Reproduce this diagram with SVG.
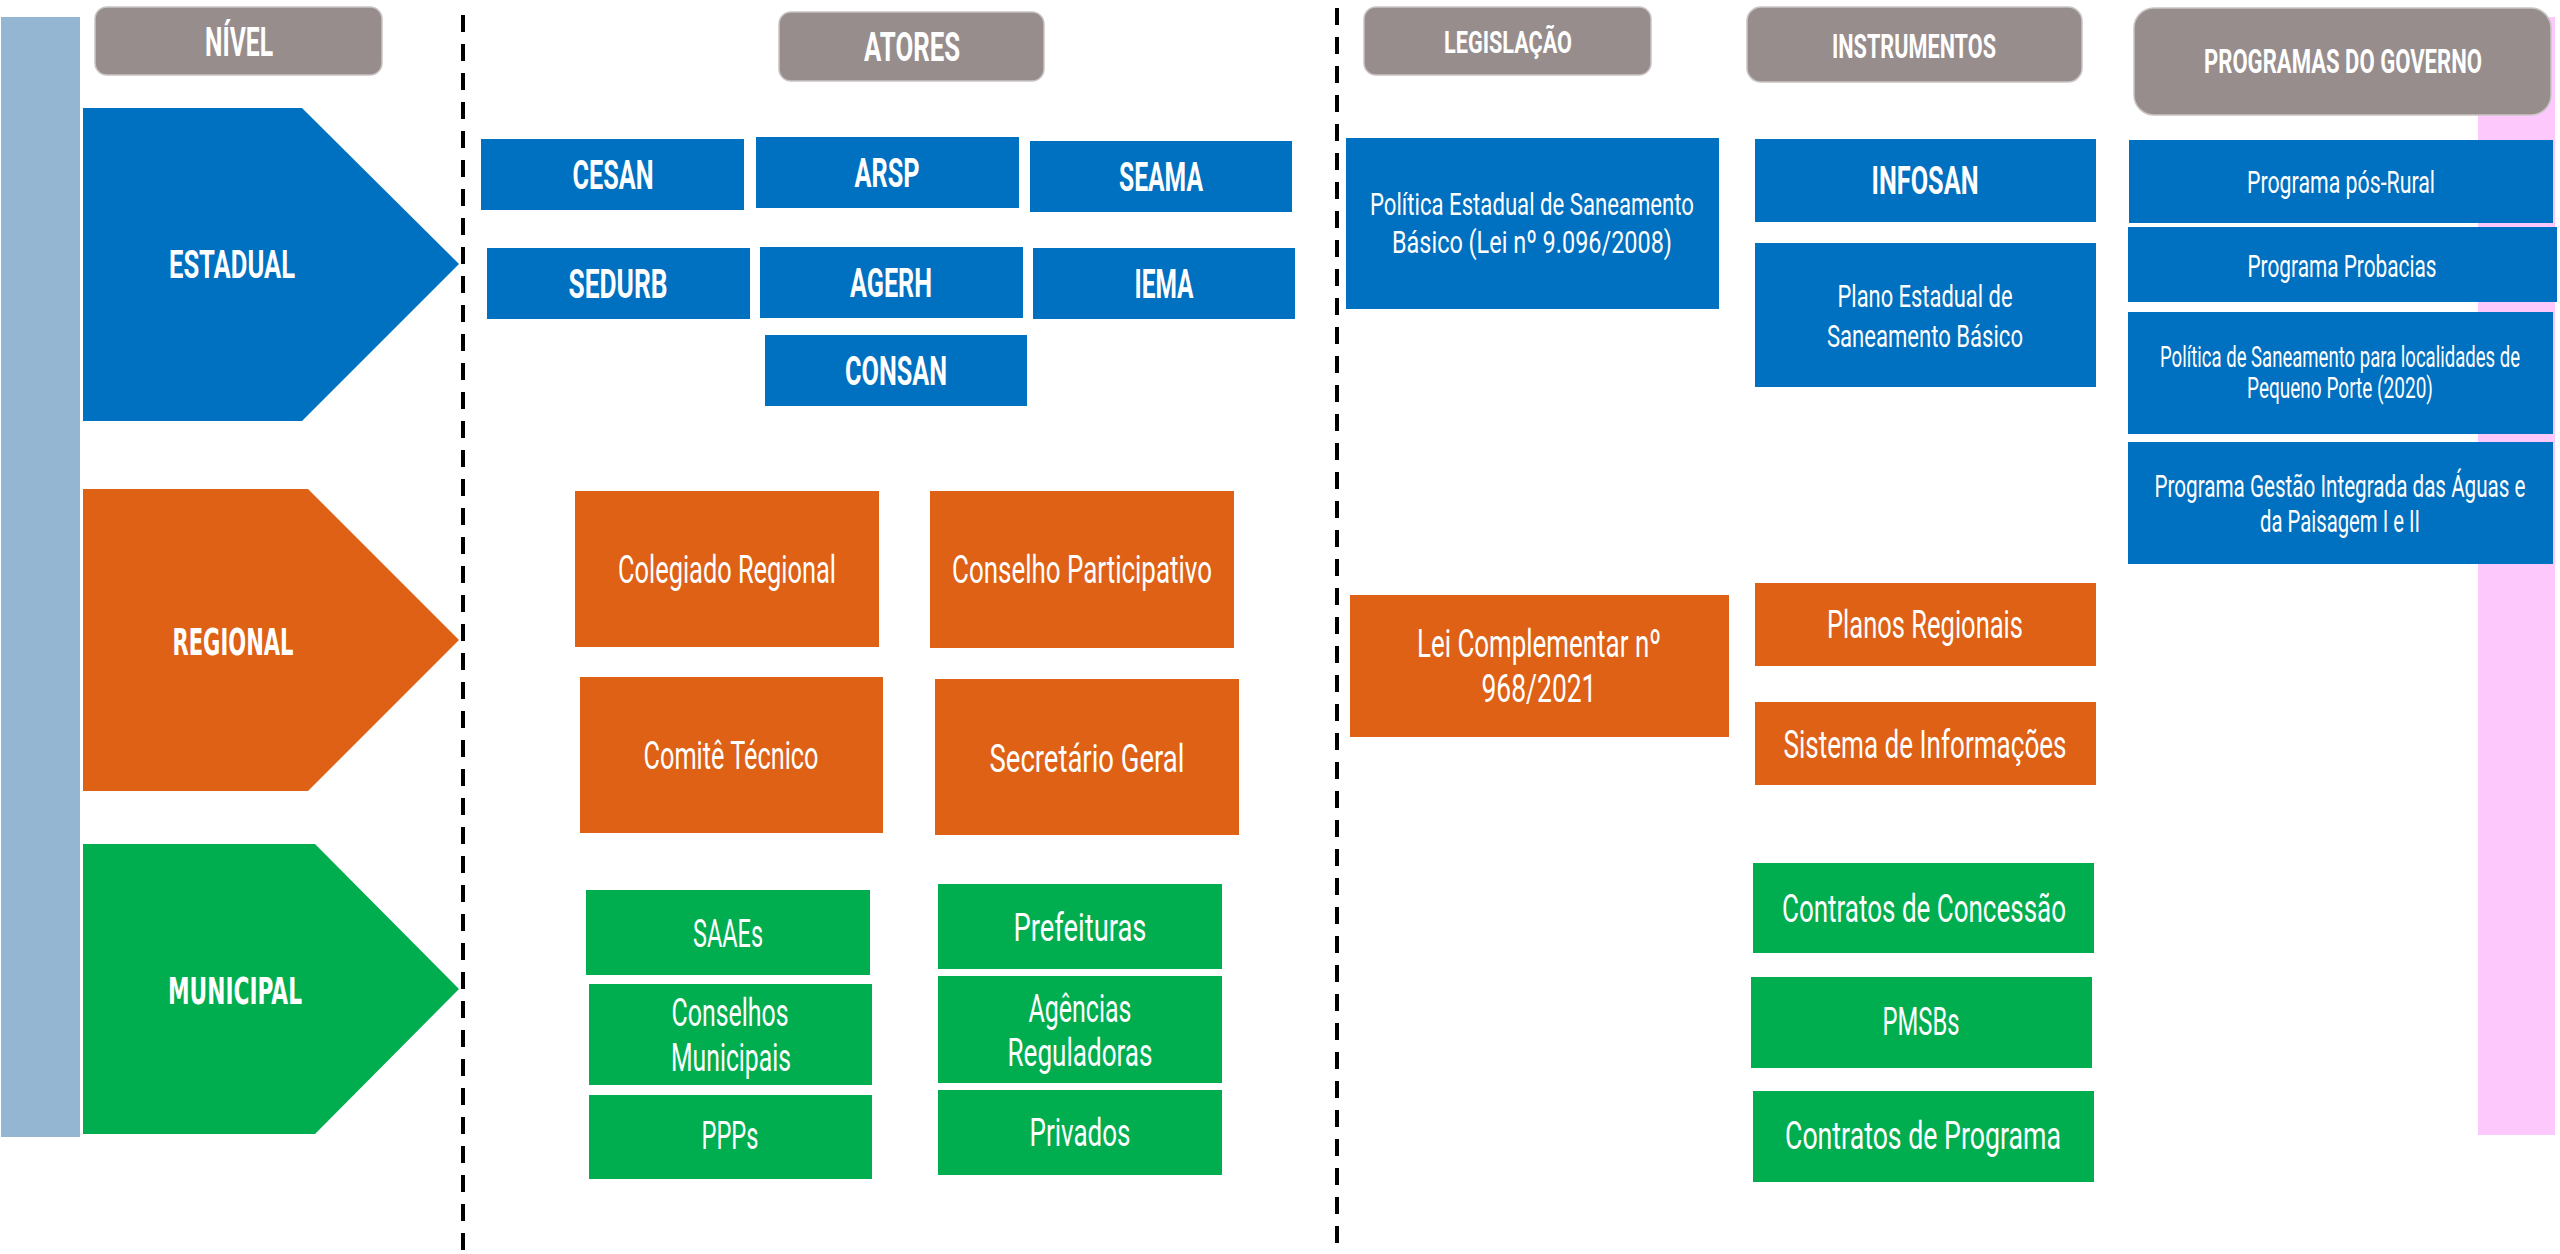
<svg xmlns="http://www.w3.org/2000/svg" width="2560" height="1254" viewBox="0 0 2560 1254">
<style>
.b{fill:#0070C0}.o{fill:#DE6116}.g{fill:#00AE50}
.h{fill:#978D8D;stroke:#C9C3C3;stroke-width:1.5}
text{fill:#fff;font-family:Roboto,"Liberation Sans",sans-serif;text-anchor:middle}
.tb{font-weight:bold;font-size:40px}
.tr{font-size:39px}
.ts{font-size:32px}
.tw{font-family:"DejaVu Sans","Liberation Sans",sans-serif;font-weight:bold;font-size:38px}
.dash{stroke:#000;stroke-width:4;stroke-dasharray:17 12;fill:none}
</style>
<rect id="bar-left" x="1" y="17" width="79" height="1120" fill="#95B6D3"/>
<rect id="bar-right" x="2478" y="17" width="77" height="1118" fill="#FDC9FD"/>
<g id="connectors">
<line class="dash" x1="463" y1="15" x2="463" y2="1254"/>
<line class="dash" x1="1337" y1="8" x2="1337" y2="1254"/>
</g>
<g id="hdr-nivel"><rect class="h" x="95" y="7" width="287" height="68" rx="12"/><text class="tb" x="239" y="56" font-size="38" textLength="68" lengthAdjust="spacingAndGlyphs">NÍVEL</text></g>
<g id="hdr-atores"><rect class="h" x="779" y="12" width="265" height="69" rx="12"/><text class="tb" x="912" y="61" textLength="96" lengthAdjust="spacingAndGlyphs">ATORES</text></g>
<g id="hdr-legislacao"><rect class="h" x="1364" y="7" width="287" height="68" rx="12"/><text class="tb" x="1508" y="53" style="font-size:32px" textLength="128" lengthAdjust="spacingAndGlyphs">LEGISLAÇÃO</text></g>
<g id="hdr-instrumentos"><rect class="h" x="1747" y="7" width="335" height="75" rx="14"/><text class="tb" x="1914" y="58" style="font-size:34px" textLength="164" lengthAdjust="spacingAndGlyphs">INSTRUMENTOS</text></g>
<g id="hdr-programas"><rect class="h" x="2134" y="8" width="417" height="107" rx="20"/><text x="2343" y="73" font-weight="bold" font-size="24" transform="matrix(1,0,0,1.375,0,-27.375)" textLength="278" lengthAdjust="spacingAndGlyphs">PROGRAMAS DO GOVERNO</text></g>
<g id="lvl-estadual"><polygon class="b" points="83,108 302,108 459,264 302,421 83,421"/><text class="tb" x="232" y="278" style="font-size:39px" textLength="126" lengthAdjust="spacingAndGlyphs">ESTADUAL</text></g>
<g id="lvl-regional"><polygon class="o" points="83,489 308,489 459,640 308,791 83,791"/><text class="tw" x="233" y="655" textLength="121" lengthAdjust="spacingAndGlyphs">REGIONAL</text></g>
<g id="lvl-municipal"><polygon class="g" points="83,844 315,844 459,989 315,1134 83,1134"/><text class="tw" x="235" y="1004" textLength="134" lengthAdjust="spacingAndGlyphs">MUNICIPAL</text></g>
<g id="a-cesan"><rect class="b" x="481" y="139" width="263" height="71"/><text class="tb" x="613" y="189" textLength="81" lengthAdjust="spacingAndGlyphs">CESAN</text></g>
<g id="a-arsp"><rect class="b" x="756" y="137" width="263" height="71"/><text class="tb" x="887" y="187" textLength="65" lengthAdjust="spacingAndGlyphs">ARSP</text></g>
<g id="a-seama"><rect class="b" x="1030" y="141" width="262" height="71"/><text class="tb" x="1161" y="191" textLength="84" lengthAdjust="spacingAndGlyphs">SEAMA</text></g>
<g id="a-sedurb"><rect class="b" x="487" y="248" width="263" height="71"/><text class="tb" x="618" y="298" textLength="99" lengthAdjust="spacingAndGlyphs">SEDURB</text></g>
<g id="a-agerh"><rect class="b" x="760" y="247" width="263" height="71"/><text class="tb" x="891" y="297" textLength="82" lengthAdjust="spacingAndGlyphs">AGERH</text></g>
<g id="a-iema"><rect class="b" x="1033" y="248" width="262" height="71"/><text class="tb" x="1164" y="298" textLength="59" lengthAdjust="spacingAndGlyphs">IEMA</text></g>
<g id="a-consan"><rect class="b" x="765" y="335" width="262" height="71"/><text class="tb" x="896" y="385" textLength="102" lengthAdjust="spacingAndGlyphs">CONSAN</text></g>
<g id="a-colegiado"><rect class="o" x="575" y="491" width="304" height="156"/><text class="tr" x="727" y="583" textLength="218" lengthAdjust="spacingAndGlyphs">Colegiado Regional</text></g>
<g id="a-conselho-part"><rect class="o" x="930" y="491" width="304" height="157"/><text class="tr" x="1082" y="583" textLength="260" lengthAdjust="spacingAndGlyphs">Conselho Participativo</text></g>
<g id="a-comite"><rect class="o" x="580" y="677" width="303" height="156"/><text class="tr" x="731" y="769" textLength="175" lengthAdjust="spacingAndGlyphs">Comitê Técnico</text></g>
<g id="a-secretario"><rect class="o" x="935" y="679" width="304" height="156"/><text class="tr" x="1087" y="772" textLength="195" lengthAdjust="spacingAndGlyphs">Secretário Geral</text></g>
<g id="a-saaes"><rect class="g" x="586" y="890" width="284" height="85"/><text class="tr" x="728" y="947" textLength="70" lengthAdjust="spacingAndGlyphs">SAAEs</text></g>
<g id="a-conselhos-mun"><rect class="g" x="589" y="984" width="283" height="101"/><text class="tr" x="730" y="1026" textLength="117" lengthAdjust="spacingAndGlyphs">Conselhos</text><text class="tr" x="731" y="1071" textLength="120" lengthAdjust="spacingAndGlyphs">Municipais</text></g>
<g id="a-ppps"><rect class="g" x="589" y="1095" width="283" height="84"/><text class="tr" x="730" y="1149" textLength="57" lengthAdjust="spacingAndGlyphs">PPPs</text></g>
<g id="a-prefeituras"><rect class="g" x="938" y="884" width="284" height="85"/><text class="tr" x="1080" y="941" textLength="133" lengthAdjust="spacingAndGlyphs">Prefeituras</text></g>
<g id="a-agencias"><rect class="g" x="938" y="976" width="284" height="107"/><text class="tr" x="1080" y="1022" textLength="103" lengthAdjust="spacingAndGlyphs">Agências</text><text class="tr" x="1080" y="1066" textLength="145" lengthAdjust="spacingAndGlyphs">Reguladoras</text></g>
<g id="a-privados"><rect class="g" x="938" y="1090" width="284" height="85"/><text class="tr" x="1080" y="1146" textLength="101" lengthAdjust="spacingAndGlyphs">Privados</text></g>
<g id="l-politica"><rect class="b" x="1346" y="138" width="373" height="171"/><text class="ts" x="1532" y="215" textLength="324" lengthAdjust="spacingAndGlyphs">Política Estadual de Saneamento</text><text class="ts" x="1532" y="253" textLength="280" lengthAdjust="spacingAndGlyphs">Básico (Lei nº 9.096/2008)</text></g>
<g id="l-lei"><rect class="o" x="1350" y="595" width="379" height="142"/><text class="tr" x="1539" y="657" textLength="244" lengthAdjust="spacingAndGlyphs">Lei Complementar nº</text><text class="tr" x="1539" y="702" textLength="115" lengthAdjust="spacingAndGlyphs">968/2021</text></g>
<g id="i-infosan"><rect class="b" x="1755" y="139" width="341" height="83"/><text class="tb" x="1925" y="194" style="font-size:39px" textLength="107" lengthAdjust="spacingAndGlyphs">INFOSAN</text></g>
<g id="i-plano"><rect class="b" x="1755" y="243" width="341" height="144"/><text class="ts" x="1925" y="307" textLength="175" lengthAdjust="spacingAndGlyphs">Plano Estadual de</text><text class="ts" x="1925" y="347" textLength="196" lengthAdjust="spacingAndGlyphs">Saneamento Básico</text></g>
<g id="i-planos-reg"><rect class="o" x="1755" y="583" width="341" height="83"/><text class="tr" x="1925" y="638" textLength="196" lengthAdjust="spacingAndGlyphs">Planos Regionais</text></g>
<g id="i-sistema"><rect class="o" x="1755" y="702" width="341" height="83"/><text class="tr" x="1925" y="758" textLength="283" lengthAdjust="spacingAndGlyphs">Sistema de Informações</text></g>
<g id="i-concessao"><rect class="g" x="1753" y="863" width="341" height="90"/><text class="tr" x="1924" y="922" textLength="284" lengthAdjust="spacingAndGlyphs">Contratos de Concessão</text></g>
<g id="i-pmsbs"><rect class="g" x="1751" y="977" width="341" height="91"/><text class="tr" x="1921" y="1035" textLength="77" lengthAdjust="spacingAndGlyphs">PMSBs</text></g>
<g id="i-programa"><rect class="g" x="1753" y="1091" width="341" height="91"/><text class="tr" x="1923" y="1149" textLength="276" lengthAdjust="spacingAndGlyphs">Contratos de Programa</text></g>
<g id="p-posrural"><rect class="b" x="2129" y="140" width="424" height="83"/><text class="ts" x="2341" y="193" textLength="188" lengthAdjust="spacingAndGlyphs">Programa pós-Rural</text></g>
<g id="p-probacias"><rect class="b" x="2128" y="227" width="429" height="75"/><text class="ts" x="2342" y="277" textLength="189" lengthAdjust="spacingAndGlyphs">Programa Probacias</text></g>
<g id="p-politica"><rect class="b" x="2128" y="312" width="425" height="122"/><text x="2340" y="367" font-size="20" transform="matrix(1,0,0,1.45,0,-165.15)" textLength="360" lengthAdjust="spacingAndGlyphs">Política de Saneamento para localidades de</text><text class="ts" x="2340" y="398" style="font-size:29px" textLength="186" lengthAdjust="spacingAndGlyphs">Pequeno Porte (2020)</text></g>
<g id="p-gestao"><rect class="b" x="2128" y="442" width="425" height="122"/><text x="2340" y="497" font-size="21" transform="matrix(1,0,0,1.52,0,-258.44)" textLength="371" lengthAdjust="spacingAndGlyphs">Programa Gestão Integrada das Águas e</text><text class="ts" x="2340" y="532" textLength="160" lengthAdjust="spacingAndGlyphs">da Paisagem I e II</text></g>
</svg>
